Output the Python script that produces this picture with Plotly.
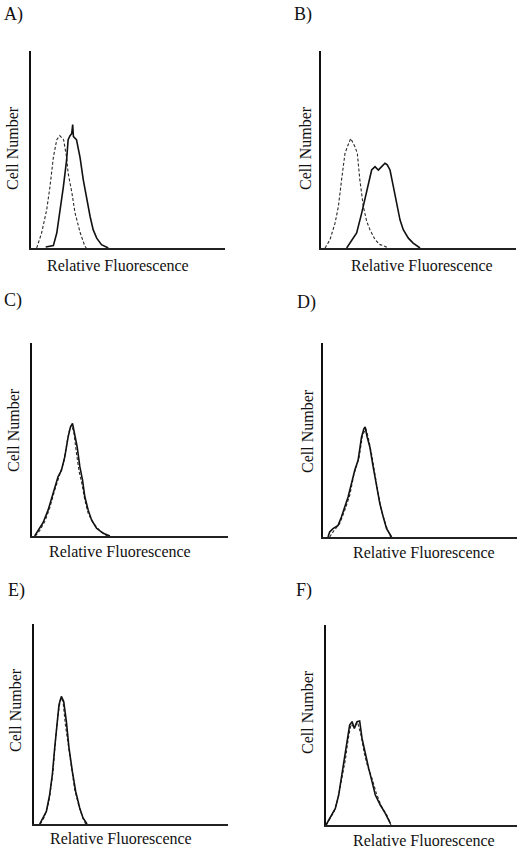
import plotly.graph_objects as go

# channel (0-256) / relative count (0-100)
a_solid_x = [19.4, 29.5, 34, 38, 42.7, 47, 49, 51.5, 53.7, 55, 56, 60, 64.7, 69, 73.5, 78, 82, 86.7, 93, 102]
a_solid_y = [0.5, 1.2, 7.6, 17.7, 31, 44.7, 55, 57, 58, 62.7, 56.5, 55, 46, 34.6, 24.4, 16, 9.3, 5, 1.7, 0]
a_dash_x = [7.5, 14, 20.7, 25, 29.5, 34, 38, 43, 47, 49, 54, 58, 65, 71, 73]
a_dash_y = [0, 7.6, 19.4, 31, 46, 55, 57, 55, 46, 38, 28, 18, 7.6, 1, 0]

b_solid_x = [33.7, 40.3, 46.8, 53.4, 59, 63.5, 66.5, 70.9, 75.3, 79.6, 84, 87, 90.6, 95, 99.3, 103.7, 108, 114.7, 121, 130]
b_solid_y = [0, 4.2, 7.6, 17.7, 27.8, 34.6, 39.6, 41.3, 39.6, 41.3, 43, 42.2, 39.6, 31.2, 22.8, 14.3, 9.3, 5, 2.5, 0]
b_dash_x = [5.3, 11.8, 18.4, 22.8, 27, 31.5, 34.6, 39, 44.6, 47.7, 51, 55.6, 60, 64.3, 71, 77.5, 82, 88.4]
b_dash_y = [0, 4.2, 12.6, 21, 34.6, 48, 51.4, 55.6, 51.4, 48, 34.6, 21, 13.5, 9.3, 4.2, 1.7, 1.2, 0]

c_solid_x = [3.5, 7.9, 14.4, 21, 27.5, 34, 38.4, 42.8, 47.2, 50.2, 52.9, 55.9, 59, 62.5, 66, 69, 73.4, 77.8, 84.3, 93, 101.8]
c_solid_y = [0, 3.1, 6.9, 13.4, 22, 30.7, 34, 41, 51.4, 56.5, 58.3, 53.1, 46.2, 35.9, 29, 20.3, 13.4, 8.3, 4, 1.4, 0]
c_dash_x = [4.4, 10, 16.6, 23, 29.7, 36.3, 41.5, 46.3, 49.4, 51.6, 54.6, 58.1, 61.6, 65.1, 69, 73.4, 80, 88.7, 98.3]
c_dash_y = [0, 2.8, 7.4, 14.3, 23.8, 31.5, 38.4, 49.7, 55.7, 57.4, 54, 42.8, 33.3, 27.2, 18.6, 11.7, 6.6, 2.8, 0]

d_solid_x = [6.6, 8.8, 13.2, 19.9, 24.3, 28.7, 33.1, 37.5, 41.9, 46.3, 50.8, 53.9, 55.6, 58.3, 61.8, 66.2, 70.6, 75, 79.5, 83.9, 90.5]
d_solid_y = [0, 2.6, 4.3, 6, 10.3, 15.5, 20.6, 27.5, 34.4, 39.5, 51.5, 55.8, 56.7, 51.5, 46.4, 36.1, 25.8, 17.2, 10.3, 4.3, 0]
d_dash_x = [8.8, 14.1, 22, 28.7, 35.3, 41, 47.7, 52.1, 56.5, 59.6, 64, 68.4, 72.8, 77.2, 83, 89.2]
d_dash_y = [0, 3.1, 6.9, 13.7, 21.5, 32.6, 41.2, 52.4, 55.8, 51.5, 43, 31.8, 22.3, 13.7, 6, 0]

e_solid_x = [7.5, 11.9, 16.3, 20.7, 24.2, 27.3, 30.4, 33, 36.1, 39.2, 42.7, 46.2, 50.6, 55, 60.3, 64.7, 70]
e_solid_y = [0, 3, 6.3, 14.7, 24.7, 38, 51.3, 59.7, 63.8, 61.3, 51.3, 38, 26.3, 16.3, 8, 3, 0]
e_dash_x = [8.4, 14.1, 19.8, 25.1, 28.6, 31.7, 35.2, 38.3, 41.4, 44.9, 49.3, 53.7, 59.4, 64.7, 68.2]
e_dash_y = [0, 3.8, 11.3, 26.3, 43, 54.7, 63, 61.3, 49.7, 39.7, 28, 17.2, 8.8, 2.7, 0]

f_solid_x = [0, 3.6, 8, 12.5, 17, 20.6, 24.6, 28.1, 31.7, 34.9, 38, 41.6, 45.1, 48.3, 52.7, 57.2, 61.7, 66.1, 72.8, 79.5, 86.2]
f_solid_y = [0, 2.5, 5, 8.3, 15, 23.3, 33.3, 40, 50, 51.7, 48.3, 51.7, 52, 43.3, 35, 28.3, 21.7, 15, 10, 5.8, 0.8]
f_dash_x = [0.4, 5.8, 11.2, 16.1, 21.4, 25.9, 29.9, 33.5, 37.1, 42.4, 46.9, 51.4, 55.9, 61.7, 67.5, 73.7, 81.8, 87.1]
f_dash_y = [0, 3.3, 7, 13.3, 23.3, 32.5, 43.3, 50.3, 49.2, 51.3, 45, 35.8, 29.2, 23.3, 15.8, 9.7, 4.7, 0]

panel_labels = ["A)", "B)", "C)", "D)", "E)", "F)"]
x_title = "Relative Fluorescence"
y_title = "Cell Number"

series = [
    (a_solid_x, a_solid_y, a_dash_x, a_dash_y),
    (b_solid_x, b_solid_y, b_dash_x, b_dash_y),
    (c_solid_x, c_solid_y, c_dash_x, c_dash_y),
    (d_solid_x, d_solid_y, d_dash_x, d_dash_y),
    (e_solid_x, e_solid_y, e_dash_x, e_dash_y),
    (f_solid_x, f_solid_y, f_dash_x, f_dash_y),
]

W, H = 520, 852
# pixel boxes: y-axis x, x-axis end, top, baseline
boxes = [(31, 225, 51, 248), (321, 516, 51, 248),
         (32, 228, 343, 536), (323, 517, 343, 537),
         (34, 228, 624, 824), (326, 517, 625, 825)]
# label positions (pixels): letter, y-title, x-title
letter_pos = [(2, 15), (292, 15), (2, 300), (295, 302), (6, 590), (294, 590)]
ytitle_pos = [(12, 148), (305, 148), (14, 430), (307, 431), (15, 710), (307, 712)]
xtitle_pos = [(118, 266), (422, 266), (120, 551), (424, 552), (121, 838), (424, 840)]

font = "Liberation Serif"
fig = go.Figure()
annotations = []

for i, (sx, sy, dx, dy) in enumerate(series):
    n = "" if i == 0 else str(i + 1)
    fig.add_trace(go.Scatter(x=dx, y=dy, mode="lines", xaxis="x" + n, yaxis="y" + n,
                             line=dict(color="#2a2a2a", width=1.1, dash="3px,2px"),
                             showlegend=False, hoverinfo="skip"))
    fig.add_trace(go.Scatter(x=sx, y=sy, mode="lines", xaxis="x" + n, yaxis="y" + n,
                             line=dict(color="#111111", width=1.6),
                             showlegend=False, hoverinfo="skip"))

    x0, x1, top, base = boxes[i]
    fig.layout["xaxis" + n] = dict(domain=[x0 / W, x1 / W], range=[0, 256], anchor="y" + n,
                                   showline=True, linecolor="#222222", linewidth=1.5,
                                   showgrid=False, zeroline=False, showticklabels=False, ticks="")
    fig.layout["yaxis" + n] = dict(domain=[1 - base / H, 1 - top / H], range=[0, 100], anchor="x" + n,
                                   showline=True, linecolor="#111111", linewidth=2,
                                   showgrid=False, zeroline=False, showticklabels=False, ticks="")

    lx, ly = letter_pos[i]
    annotations.append(dict(text=panel_labels[i], x=lx / W, y=1 - ly / H, xref="paper", yref="paper",
                            xanchor="left", yanchor="middle", showarrow=False,
                            font=dict(family=font, size=18, color="#111111")))
    tx, ty = ytitle_pos[i]
    annotations.append(dict(text=y_title, x=tx / W, y=1 - ty / H, xref="paper", yref="paper",
                            xanchor="center", yanchor="middle", showarrow=False, textangle=-90,
                            font=dict(family=font, size=16, color="#111111")))
    tx, ty = xtitle_pos[i]
    annotations.append(dict(text=x_title, x=tx / W, y=1 - ty / H, xref="paper", yref="paper",
                            xanchor="center", yanchor="middle", showarrow=False,
                            font=dict(family=font, size=16, color="#111111")))

fig.update_layout(width=W, height=H, margin=dict(l=0, r=0, t=0, b=0),
                  paper_bgcolor="white", plot_bgcolor="white",
                  annotations=annotations)

# drop the default 8px page margin so the figure sits at the window corner
fig.write_html("out.html", config={"displayModeBar": False},
               post_script="document.body.style.margin='0';")
